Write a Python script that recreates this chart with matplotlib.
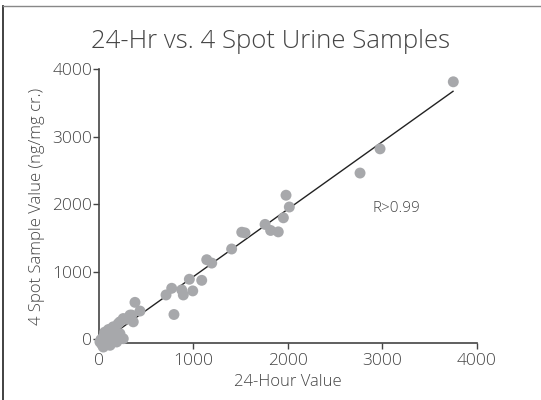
import matplotlib
matplotlib.use('Agg')
import matplotlib.pyplot as plt
import numpy as np
from matplotlib.lines import Line2D

plt.rcParams['font.family'] = ['Open Sans', 'DejaVu Sans']

hour24 = [3753, 2977, 2765, 1981, 2016, 1953, 1759, 1818, 1899, 1512, 1546, 1405,
          1141, 1194, 957, 1088, 770, 710, 876, 893, 993, 794, 381, 434, 346, 293,
          222, 363, 328, 257, 204, 134, 81, 46, 10, 46, 117, 187, 257, 222, 170, 117,
          30, 60, 150, 100, 20, 70]
spot4 = [3816, 2821, 2462, 2133, 1958, 1798, 1700, 1610, 1589, 1584, 1574, 1335,
         1176, 1126, 886, 870, 752, 653, 728, 653, 713, 363, 543, 414, 354, 294,
         254, 254, 354, 303, 229, 154, 79, 30, -45, -120, -94, -45, 4, 79, 55, -20,
         -80, 100, 180, 140, -10, 20]

# trend line
fit_slope = 1.0
fit_icpt = -75
fit_x = [0, 3750]

ticks = [0, 1000, 2000, 3000, 4000]
txt = '#444444'

fig = plt.figure(figsize=(5.41, 4.0), dpi=100)
ax = fig.add_axes([0.183, 0.1425, 0.698, 0.684])

ax.scatter(hour24, spot4, s=62, color='#a7a8ab', edgecolors='none', clip_on=False, zorder=3)
fx = np.array(fit_x)
ax.plot(fx, fit_slope * fx + fit_icpt, color='#222222', lw=1.0, zorder=2)

ax.set_xlim(0, 4000)
ax.set_ylim(-60, 4000)
ax.set_xticks(ticks)
ax.set_yticks(ticks)
for s in ['top', 'right']:
    ax.spines[s].set_visible(False)
for s in ['left', 'bottom']:
    ax.spines[s].set_color('#444444')
    ax.spines[s].set_linewidth(1.2)
ax.tick_params(colors='#444444', labelcolor=txt, labelsize=12.5, length=4, width=1.0, pad=1)
ax.tick_params(axis='x', pad=3)
for lab in ax.get_xticklabels() + ax.get_yticklabels():
    lab.set_fontweight('light')

ax.set_xlabel('24-Hour Value', fontsize=12, color=txt, fontweight='light', labelpad=4)
ax.set_ylabel('4 Spot Sample Value (ng/mg cr.)', fontsize=12, color=txt, fontweight='light', labelpad=5)
fig.text(0.5, 0.897, '24-Hr vs. 4 Spot Urine Samples', ha='center', va='center',
         fontsize=18.5, color=txt, fontweight='light')
ax.text(2900, 1943, 'R>0.99', fontsize=11, color=txt, fontweight='light', va='center')

# border on left and top
fig.add_artist(Line2D([0.005, 0.005], [0, 0.986], transform=fig.transFigure, color='#333333', lw=1.3))
fig.add_artist(Line2D([0.005, 1], [0.986, 0.986], transform=fig.transFigure, color='#888888', lw=1.0))

fig.savefig('out.png', dpi=100)
